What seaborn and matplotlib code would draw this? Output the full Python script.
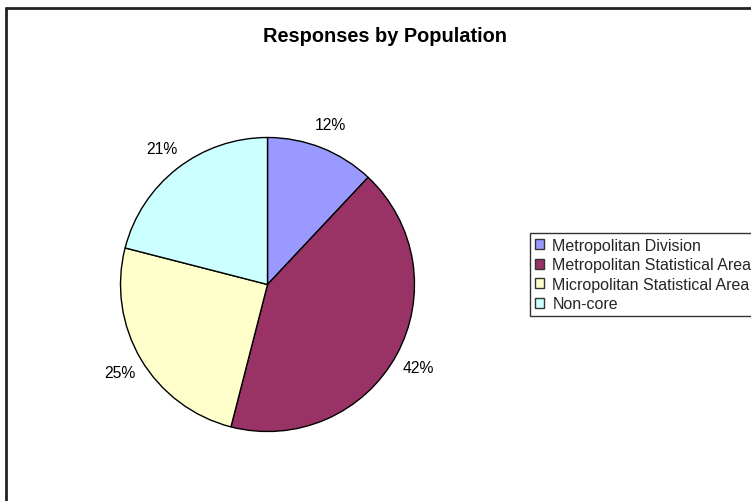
import matplotlib
matplotlib.use("Agg")
import matplotlib.pyplot as plt
import matplotlib.patches as mpatches
from matplotlib.lines import Line2D
import seaborn as sns

categories = ["Metropolitan Division", "Metropolitan Statistical Area",
              "Micropolitan Statistical Area", "Non-core"]
shares = [12, 42, 25, 21]
slice_colors = ["#9999FF", "#993366", "#FFFFCC", "#CCFFFF"]
title = "Responses by Population"

sns.set_theme(style="white")
plt.rcParams["font.family"] = ["Liberation Sans", "DejaVu Sans"]
palette = sns.color_palette(slice_colors)

W, H = 751, 502
fig = plt.figure(figsize=(W / 100, H / 100), dpi=100)
fig.patch.set_facecolor("white")

# chart area frame: only its left and top edges fall inside the image
x0, y0 = 6.5 / W, 1 - 8.5 / H
fig.add_artist(Line2D([x0, x0], [-0.1, y0], transform=fig.transFigure,
                      color="#222222", linewidth=2.0))
fig.add_artist(Line2D([x0, 1.1], [y0, y0], transform=fig.transFigure,
                      color="#222222", linewidth=2.0))

# pie plot area
cx, cy, r = 267.5, 285.5, 147.0
ax = fig.add_axes([(cx - r) / W, 1 - (cy + r) / H, 2 * r / W, 2 * r / H])
wedges, texts, autotexts = ax.pie(
    shares, colors=palette, startangle=90, counterclock=False,
    autopct="%.0f%%", pctdistance=1.17,
    wedgeprops=dict(edgecolor="black", linewidth=1.0),
    textprops=dict(fontsize=11.3, color="black"))
ax.set_xlim(-1, 1)
ax.set_ylim(-1, 1)
ax.set_aspect("equal")
ax.axis("off")

fig.text(385 / W, 1 - 37 / H, title, ha="center", va="center",
         fontsize=14.4, fontweight="bold", color="black")

handles = [mpatches.Patch(facecolor=c, edgecolor="#333333", linewidth=1.0)
           for c in palette]
leg = fig.legend(handles, categories, loc="upper left",
                 bbox_to_anchor=(530 / W, 1 - 234 / H),
                 frameon=True, fancybox=False, fontsize=11.5,
                 handlelength=0.6, handleheight=0.6, handletextpad=0.5,
                 labelspacing=0.28, borderpad=0.3, borderaxespad=0)
leg.get_frame().set_edgecolor("black")
leg.get_frame().set_linewidth(1.0)

fig.savefig("out.png", dpi=100)
